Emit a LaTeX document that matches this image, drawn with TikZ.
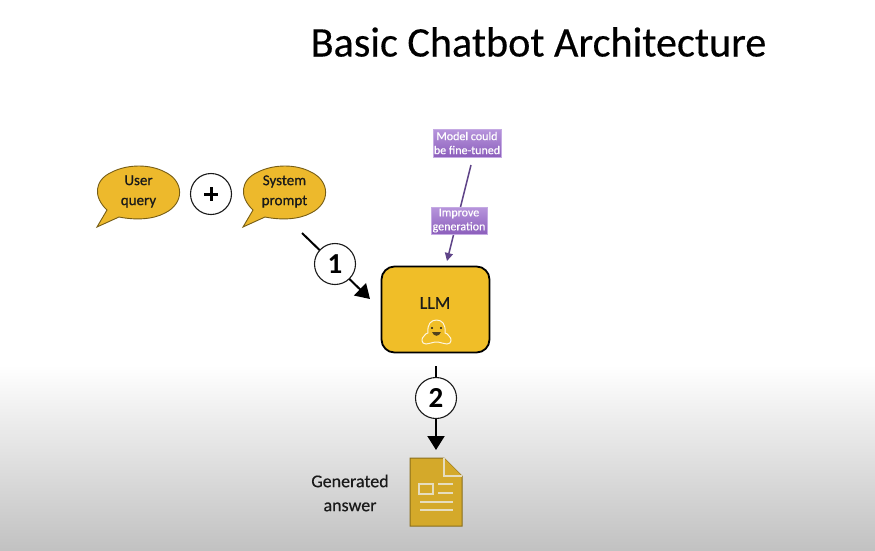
\documentclass[tikz,border=0pt]{standalone}
\usepackage{fontspec}
\setmainfont{Carlito}
\newfontfamily\heavy[FakeBold=0.6]{Carlito}
\newfontfamily\semi[FakeBold=0.35]{Carlito}
\usetikzlibrary{arrows.meta,shapes.geometric}
\definecolor{gold}{HTML}{F0BE28}
\definecolor{bubblegold}{HTML}{EDB92C}
\definecolor{docgold}{HTML}{D4A92A}
\definecolor{docline}{HTML}{E6DDBE}
\definecolor{purpleline}{HTML}{5F4488}
\definecolor{purpletop}{HTML}{B795DC}
\definecolor{purplebot}{HTML}{8C5FBC}
\definecolor{ink}{HTML}{1A1A1A}
\tikzset{
  bubbletext/.style={font=\heavy\fontsize{15}{20}\selectfont,align=center,text=ink},
  numcircle/.style={circle,draw=ink,line width=1.1pt,fill=white,minimum size=41pt,inner sep=0pt,font=\fontsize{29}{29}\selectfont\bfseries,text=black},
  flow/.style={line width=2pt,draw=black},
  tip/.style={-{Triangle[length=14pt,width=17pt]}},
  note/.style={rectangle,inner sep=0pt,top color=purpletop,bottom color=purplebot,draw=purpletop!80!white,line width=.5pt,text=white,align=center,font=\semi\fontsize{12}{14}\selectfont},
  bubble/.style={fill=bubblegold,draw=black!50!bubblegold,line width=.9pt},
  docstroke/.style={draw=docline,line width=1.5pt}
}
\begin{document}
\begin{tikzpicture}[x=1pt,y=-1pt]
\useasboundingbox (0,0) rectangle (875,550);
\fill[white] (0,0) rectangle (875,550);
\shade[top color=white,bottom color=black!24] (0,365) rectangle (875,550);

\node[font=\semi\fontsize{42.2}{42}\selectfont,text=black] (title) at (538.5,42) {Basic Chatbot Architecture};

% speech bubbles
\draw[bubble] (97,227) -- (107,210) .. controls (93,197) and (94,180) .. (112,172) .. controls (128,164) and (150,164) .. (165,172) .. controls (184,181) and (185,203) .. (165,213) .. controls (152,220) and (134,220) .. (119,217) -- cycle;
\node[bubbletext] (user) at (138.5,191.5) {User\\query};
\draw[bubble] (243,227) -- (253,210) .. controls (239,197) and (240,180) .. (258,172) .. controls (274,164) and (296,164) .. (311,172) .. controls (330,181) and (331,203) .. (311,213) .. controls (298,220) and (280,220) .. (265,217) -- cycle;
\node[bubbletext] (system) at (284.5,191.5) {System\\prompt};

\node[circle,draw=ink,line width=1.1pt,fill=white,minimum size=41pt,inner sep=0pt] (plus) at (211,194) {};
\draw[line width=3pt,black] (204,194) -- (218,194) (211,187) -- (211,201);

% LLM
\node[draw=black,line width=1.8pt,fill=gold,rounded corners=13pt,minimum width=108pt,minimum height=86pt,inner sep=0pt] (llm) at (435.5,309.5) {};
\node[font=\heavy\fontsize{18}{18}\selectfont,text=ink] (llmtext) at (435,303) {LLM};
% smiley blob
\draw[white!85!gold,line width=1pt,line join=round] (426,344) .. controls (421,344) and (421,338) .. (424,336) .. controls (425,334) and (427,333) .. (428,333) .. controls (427,324) and (431,320) .. (436.5,320) .. controls (442,320) and (446,324) .. (445,333) .. controls (446,333) and (448,334) .. (449,336) .. controls (452,338) and (452,344) .. (447,344) .. controls (443,344) and (441,342) .. (436.5,342) .. controls (432,342) and (430,344) .. (426,344) -- cycle;
\fill[ink] (432,328) circle (1.1pt) (441,328) circle (1.1pt);
\fill[ink!75!gold] (432,332) .. controls (434,337) and (439,337) .. (441,332) -- cycle;

% connectors
\coordinate (s1) at (302,233);
\coordinate (e1) at (370,299);
\coordinate (s2) at (436,366);
\coordinate (e2) at (436,450);
\coordinate (sn) at (471,165);
\coordinate (en) at (447,261);
\draw[flow,tip] (s1) -- (e1);
\draw[flow,tip] (s2) -- (e2);
\draw[purpleline,line width=1.5pt,-{Triangle[length=8pt,width=8pt]}] (sn) -- (en);
\node[numcircle] (n1) at (335,264) {1};
\node[numcircle] (n2) at (436,398) {2};

% notes
\node[note,minimum width=68pt,minimum height=28pt] (fine) at (467,143) {Model could\\be fine-tuned};
\node[note,minimum width=56pt,minimum height=27pt] (improve) at (459,220.5) {Improve\\generation};

% document
\draw[fill=docgold,draw=black!35!docgold,line width=1pt] (410,458) -- (444,458) -- (462,476) -- (462,526) -- (410,526) -- cycle;
\draw[docstroke,fill=docgold] (444,458) -- (444,476) -- (462,476);
\draw[docstroke] (419,484) rectangle (433,494);
\draw[docstroke] (438,484) -- (453,484) (438,493) -- (453,493) (420,502) -- (453,502) (420,510) -- (453,510);
\node[font=\semi\fontsize{18}{24}\selectfont,align=center,text=ink] (answer) at (350,493) {Generated\\answer};
\end{tikzpicture}
\end{document}
